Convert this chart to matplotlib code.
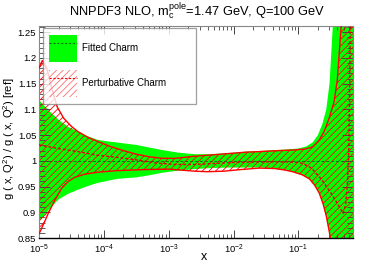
import numpy as np
import matplotlib
matplotlib.use('Agg')
import matplotlib.pyplot as plt
from matplotlib.patches import Patch
from matplotlib.lines import Line2D
from matplotlib.ticker import FixedLocator, LogLocator, NullFormatter

plt.rcParams['font.family'] = ['Liberation Sans', 'DejaVu Sans']
plt.rcParams['mathtext.fontset'] = 'custom'
plt.rcParams['mathtext.rm'] = 'Liberation Sans'
plt.rcParams['mathtext.it'] = 'Liberation Sans'
plt.rcParams['hatch.linewidth'] = 0.6

# ------------------------------------------------------------
# values (log10 x, ratio to reference)
# ------------------------------------------------------------
fit_hi_logx = [-5.00, -4.85, -4.70, -4.55, -4.40, -4.25, -4.10, -3.95, -3.75,
               -3.50, -3.30, -3.10, -2.85, -2.60, -2.35, -2.10, -1.80, -1.50,
               -1.20, -1.00, -0.88, -0.78, -0.70, -0.63, -0.57, -0.52, -0.47,
               -0.40, -0.15]
fit_hi = [1.118, 1.098, 1.080, 1.066, 1.057, 1.048, 1.041, 1.038, 1.035,
          1.031, 1.026, 1.021, 1.016, 1.013, 1.013, 1.015, 1.018, 1.020,
          1.022, 1.024, 1.028, 1.036, 1.050, 1.072, 1.100, 1.150, 1.260,
          1.420, 1.700]

fit_lo_logx = [-5.00, -4.85, -4.70, -4.55, -4.40, -4.25, -4.10, -3.80, -3.50,
               -3.30, -3.10, -2.85, -2.60, -2.35, -2.10, -1.80, -1.55, -1.35,
               -1.20, -1.09, -0.94, -0.83, -0.75, -0.68, -0.62, -0.57, -0.50,
               -0.40, -0.15]
fit_lo = [0.882, 0.905, 0.925, 0.936, 0.944, 0.951, 0.957, 0.965, 0.968,
          0.972, 0.977, 0.981, 0.984, 0.986, 0.987, 0.987, 0.987, 0.984,
          0.982, 0.979, 0.972, 0.964, 0.952, 0.937, 0.915, 0.891, 0.850,
          0.750, 0.600]

fit_cv_logx = [-5.00, -0.15]
fit_cv = [1.0, 1.0]

pert_hi_logx = [-5.00, -4.95, -4.88, -4.80, -4.72, -4.62, -4.50, -4.40, -4.25,
                -4.10, -3.90, -3.70, -3.50, -3.30, -3.10, -2.90, -2.60, -2.30,
                -2.10, -1.80, -1.60, -1.30, -1.09, -0.90, -0.78, -0.68, -0.60,
                -0.52, -0.45, -0.40, -0.34, -0.25, -0.15]
pert_hi = [1.180, 1.195, 1.180, 1.140, 1.105, 1.083, 1.067, 1.057, 1.046,
           1.038, 1.028, 1.020, 1.013, 1.008, 1.005, 1.005, 1.009, 1.012,
           1.014, 1.017, 1.018, 1.020, 1.021, 1.023, 1.027, 1.040, 1.058,
           1.085, 1.115, 1.157, 1.262, 1.450, 1.700]

pert_lo_logx = [-5.00, -4.92, -4.85, -4.75, -4.65, -4.55, -4.45, -4.30, -4.10,
                -3.80, -3.40, -3.00, -2.80, -2.60, -2.40, -2.15, -1.90, -1.60,
                -1.35, -1.20, -1.09, -0.94, -0.83, -0.75, -0.68, -0.62, -0.57,
                -0.52, -0.50, -0.40, -0.15]
pert_lo = [0.858, 0.880, 0.900, 0.925, 0.947, 0.960, 0.968, 0.974, 0.978,
           0.981, 0.983, 0.984, 0.982, 0.980, 0.979, 0.980, 0.983, 0.986,
           0.985, 0.982, 0.979, 0.973, 0.965, 0.953, 0.938, 0.917, 0.893,
           0.860, 0.845, 0.740, 0.600]

pert_cv_logx = [-5.00, -4.70, -4.40, -4.10, -3.80, -3.50, -3.20, -2.90, -2.60,
                -2.30, -2.00, -1.60, -1.20, -1.00, -0.93, -0.80, -0.65, -0.50,
                -0.37, -0.31, -0.27, -0.245, -0.225, -0.213, -0.205, -0.20]
pert_cv = [1.031, 1.024, 1.018, 1.011, 1.007, 1.002, 0.996, 0.993, 0.993,
           0.995, 0.997, 0.998, 0.998, 0.997, 0.995, 0.986, 0.965, 0.938,
           0.911, 0.898, 0.915, 0.955, 1.010, 1.100, 1.200, 1.300]

y_ticks = [0.85, 0.9, 0.95, 1.0, 1.05, 1.1, 1.15, 1.2, 1.25]
x_ticks = [1e-5, 1e-4, 1e-3, 1e-2, 1e-1]
x_ticklabels = [r'$10^{-5}$', r'$10^{-4}$', r'$10^{-3}$', r'$10^{-2}$', r'$10^{-1}$']

GREEN = '#00ff00'
RED = '#ff0000'


def band(ax, lx_hi, hi, lx_lo, lo, **kw):
    xs = np.concatenate([10.0 ** np.array(lx_hi), 10.0 ** np.array(lx_lo)[::-1]])
    ys = np.concatenate([np.array(hi), np.array(lo)[::-1]])
    return ax.fill(xs, ys, **kw)


fig = plt.figure(figsize=(3.92, 2.66), dpi=100)
ax = fig.add_axes([0.0995, 0.105, 0.8015, 0.797])
ax.set_xscale('log')

# fitted charm band
band(ax, fit_hi_logx, fit_hi, fit_lo_logx, fit_lo,
     facecolor=GREEN, edgecolor='none', zorder=1)
# perturbative charm band (hatched)
band(ax, pert_hi_logx, pert_hi, pert_lo_logx, pert_lo,
     facecolor='none', edgecolor=RED, hatch='/////', linewidth=0, zorder=2)

ax.plot(10.0 ** np.array(fit_cv_logx), fit_cv, color='#1a6b1a', lw=0.7,
        dashes=(3, 2), zorder=3)
ax.plot(10.0 ** np.array(pert_hi_logx), pert_hi, color=RED, lw=1.0, zorder=4)
ax.plot(10.0 ** np.array(pert_lo_logx), pert_lo, color=RED, lw=1.0, zorder=4)
ax.plot(10.0 ** np.array(pert_cv_logx), pert_cv, color='#dd0000', lw=1.0,
        dashes=(2, 1.5), zorder=5)

ax.set_xlim(1e-5, 0.7)
ax.set_ylim(0.85, 1.262)

ax.xaxis.set_major_locator(FixedLocator(x_ticks))
ax.set_xticklabels(x_ticklabels)
ax.xaxis.set_minor_locator(LogLocator(base=10, subs=np.arange(2, 10), numticks=20))
ax.xaxis.set_minor_formatter(NullFormatter())
ax.yaxis.set_major_locator(FixedLocator(y_ticks))
ax.set_yticklabels(['%g' % v for v in y_ticks])
ax.yaxis.set_minor_locator(FixedLocator(np.arange(0.85, 1.2601, 0.01)))

ax.tick_params(which='both', direction='in', top=True, right=True,
               labelsize=6.8, colors='#444444', labelcolor='black', pad=2)
ax.tick_params(axis='x', which='major', length=6, width=0.7, pad=3.5)
ax.tick_params(axis='x', which='minor', length=3, width=0.6)
ax.tick_params(axis='y', which='major', length=8, width=0.7)
ax.tick_params(axis='y', which='minor', length=4, width=0.6)

for side in ['top', 'left', 'right']:
    ax.spines[side].set_color('#888888')
    ax.spines[side].set_linewidth(0.8)
ax.spines['bottom'].set_color('black')
ax.spines['bottom'].set_linewidth(1.0)

fig.text(0.503, 0.955, r'NNPDF3 NLO, m$_{\rm c}^{\rm pole}$=1.47 GeV, Q=100 GeV',
         ha='center', va='center', fontsize=9.3)
fig.text(0.52, 0.033, 'x', ha='center', va='center', fontsize=9)
fig.text(0.022, 0.48, r'g ( x, Q$^{2}$) / g ( x, Q$^{2}$) [ref]', rotation=90,
         ha='center', va='center', fontsize=8)

handles = [
    (Patch(facecolor=GREEN, edgecolor='none'),
     Line2D([], [], color='#1a6b1a', lw=0.8, dashes=(2, 1.5))),
    (Patch(facecolor='none', edgecolor='#ff7070', hatch='/////', linewidth=0),
     Line2D([], [], color=RED, lw=0.8, dashes=(2, 1.5))),
]
leg = ax.legend(handles, ['Fitted Charm', 'Perturbative Charm'],
                loc='upper left', bbox_to_anchor=(0.0127, 0.623, 0.487, 0.367),
                mode='expand', fontsize=7, frameon=True, fancybox=False,
                handlelength=2.8, handleheight=3.9, labelspacing=0.9,
                borderpad=0.65, handletextpad=0.6, borderaxespad=0)
leg.get_frame().set_edgecolor('#888888')
leg.get_frame().set_linewidth(0.9)
leg.set_zorder(10)

fig.savefig('out.png', dpi=100)
